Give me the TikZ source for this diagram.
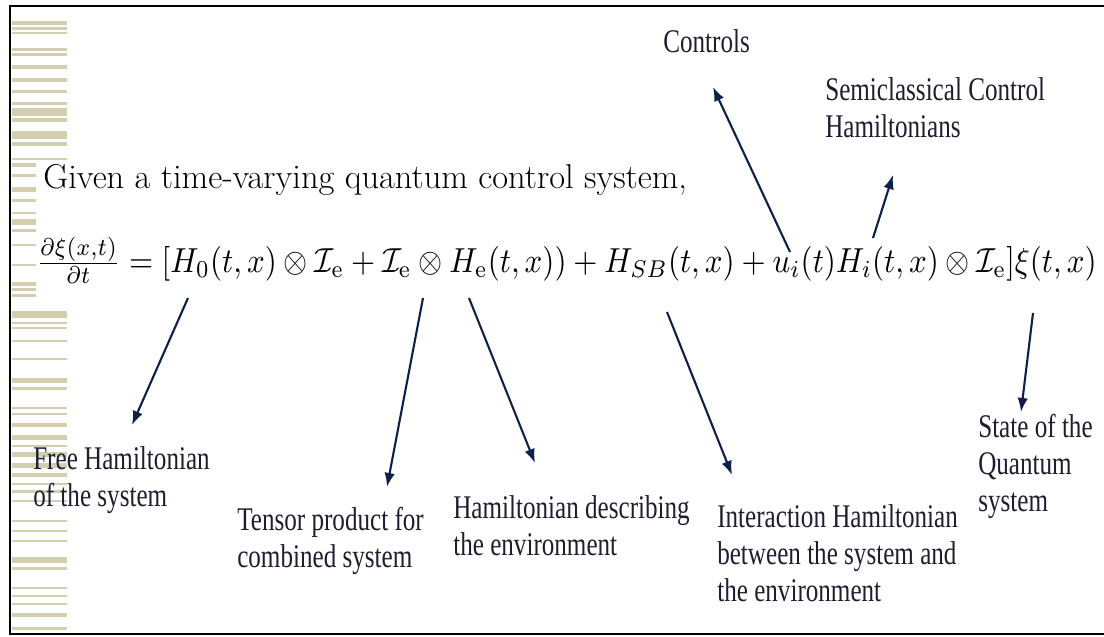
\documentclass[tikz,border=0pt]{standalone}
\usepackage{amsmath,amssymb}
\usepackage{fontspec}
\usetikzlibrary{arrows.meta}
\newfontfamily\lblfont[FakeStretch=0.76]{Liberation Serif}
\definecolor{stripetan}{RGB}{210,206,176}
\definecolor{notetext}{RGB}{30,30,48}
\definecolor{arrownavy}{RGB}{12,32,78}
\tikzset{
    notelabel/.style={anchor=base west, align=left, inner sep=0pt, text=notetext, font=\lblfont\fontsize{23.5pt}{26.3pt}\selectfont},
    notearrow/.style={-{Latex[length=10pt,width=7.5pt]}, line width=1.5pt, draw=arrownavy},
    stripe/.style={fill=stripetan}
}

\begin{document}
\begin{tikzpicture}[x=0.025cm, y=-0.025cm]
    \useasboundingbox (0,0) rectangle (1104,637);
    % Stripes on the left edge
    \foreach \y/\h/\w in {21/4/67, 27/3/67, 32/2/67, 48/3/67, 53/3/67, 65/4/67, 78/4/67, 90/3/67,
        102/3/67, 108/8/67, 118/4/67, 131/8/67, 142/4/67, 158/2/67, 163/4/36, 174/3/36, 187/5/36,
        199/3/36, 212/2/36, 219/6/36, 229/3/36, 244/2/36, 264/2/36, 282/4/36, 288/3/36, 294/3/36,
        311/7/67, 322/2/67, 327/2/67, 340/2/67, 358/2/67, 378/5/67, 387/3/67, 407/2/67, 413/2/67,
        423/4/67, 435/5/67, 445/2/67, 452/5/67, 463/5/67, 473/4/67, 483/2/67, 490/3/67, 500/2/67,
        520/2/67, 530/2/67, 540/2/67, 557/6/67, 567/3/67, 587/2/67, 595/2/67, 603/2/67, 613/4/67, 627/3/67}
        \fill[stripe] (12,\y) rectangle (\w,\y+\h);
    \draw[line width=2pt] (1104,6) -- (10,6) -- (10,634) -- (1104,634);

    % Statement and equation
    \node[anchor=base west, inner sep=0pt, font=\fontsize{24.5pt}{28pt}\selectfont] (given) at (43,188)
        {Given a time-varying quantum control system,};
    \node[anchor=base west, inner sep=0pt] (eqn) at (36,272)
        {\resizebox{26.5cm}{!}{\scalebox{1}[1.12]{$\frac{\partial\xi(x,t)}{\partial t} = [H_0(t,x)\otimes\mathcal{I}_{\mathrm{e}} + \mathcal{I}_{\mathrm{e}}\otimes H_{\mathrm{e}}(t,x)) + H_{SB}(t,x) + u_i(t)H_i(t,x)\otimes\mathcal{I}_{\mathrm{e}}]\xi(t,x)$}}};

    % Labels (placed at the baseline of their last line)
    \node[notelabel] (ctrl) at (663,53) {Controls};
    \node[notelabel] (semi) at (825,137) {Semiclassical Control\\Hamiltonians};
    \node[notelabel] (free) at (33,506) {Free Hamiltonian\\of the system};
    \node[notelabel] (tens) at (237,567) {Tensor product for\\combined system};
    \node[notelabel] (henv) at (453,555) {Hamiltonian describing\\the environment};
    \node[notelabel] (inter) at (717,601) {Interaction Hamiltonian\\between the system and\\the environment};
    \node[notelabel] (state) at (978,511) {State of the\\Quantum\\system};

    % Arrow ends
    \coordinate (uT) at (790,252);   \coordinate (uH) at (713,87);
    \coordinate (hiT) at (873,238);  \coordinate (hiH) at (893,175);
    \coordinate (h0T) at (188,298);  \coordinate (h0H) at (132,425);
    \coordinate (otT) at (423,298);  \coordinate (otH) at (387,487);
    \coordinate (heT) at (469,298);  \coordinate (heH) at (535,463);
    \coordinate (sbT) at (667,312);  \coordinate (sbH) at (732,475);
    \coordinate (xiT) at (1033,313); \coordinate (xiH) at (1021,412);

    % Arrows
    \draw[notearrow] (uT) -- (uH);
    \draw[notearrow] (hiT) -- (hiH);
    \draw[notearrow] (h0T) -- (h0H);
    \draw[notearrow] (otT) -- (otH);
    \draw[notearrow] (heT) -- (heH);
    \draw[notearrow] (sbT) -- (sbH);
    \draw[notearrow] (xiT) -- (xiH);
\end{tikzpicture}
\end{document}
